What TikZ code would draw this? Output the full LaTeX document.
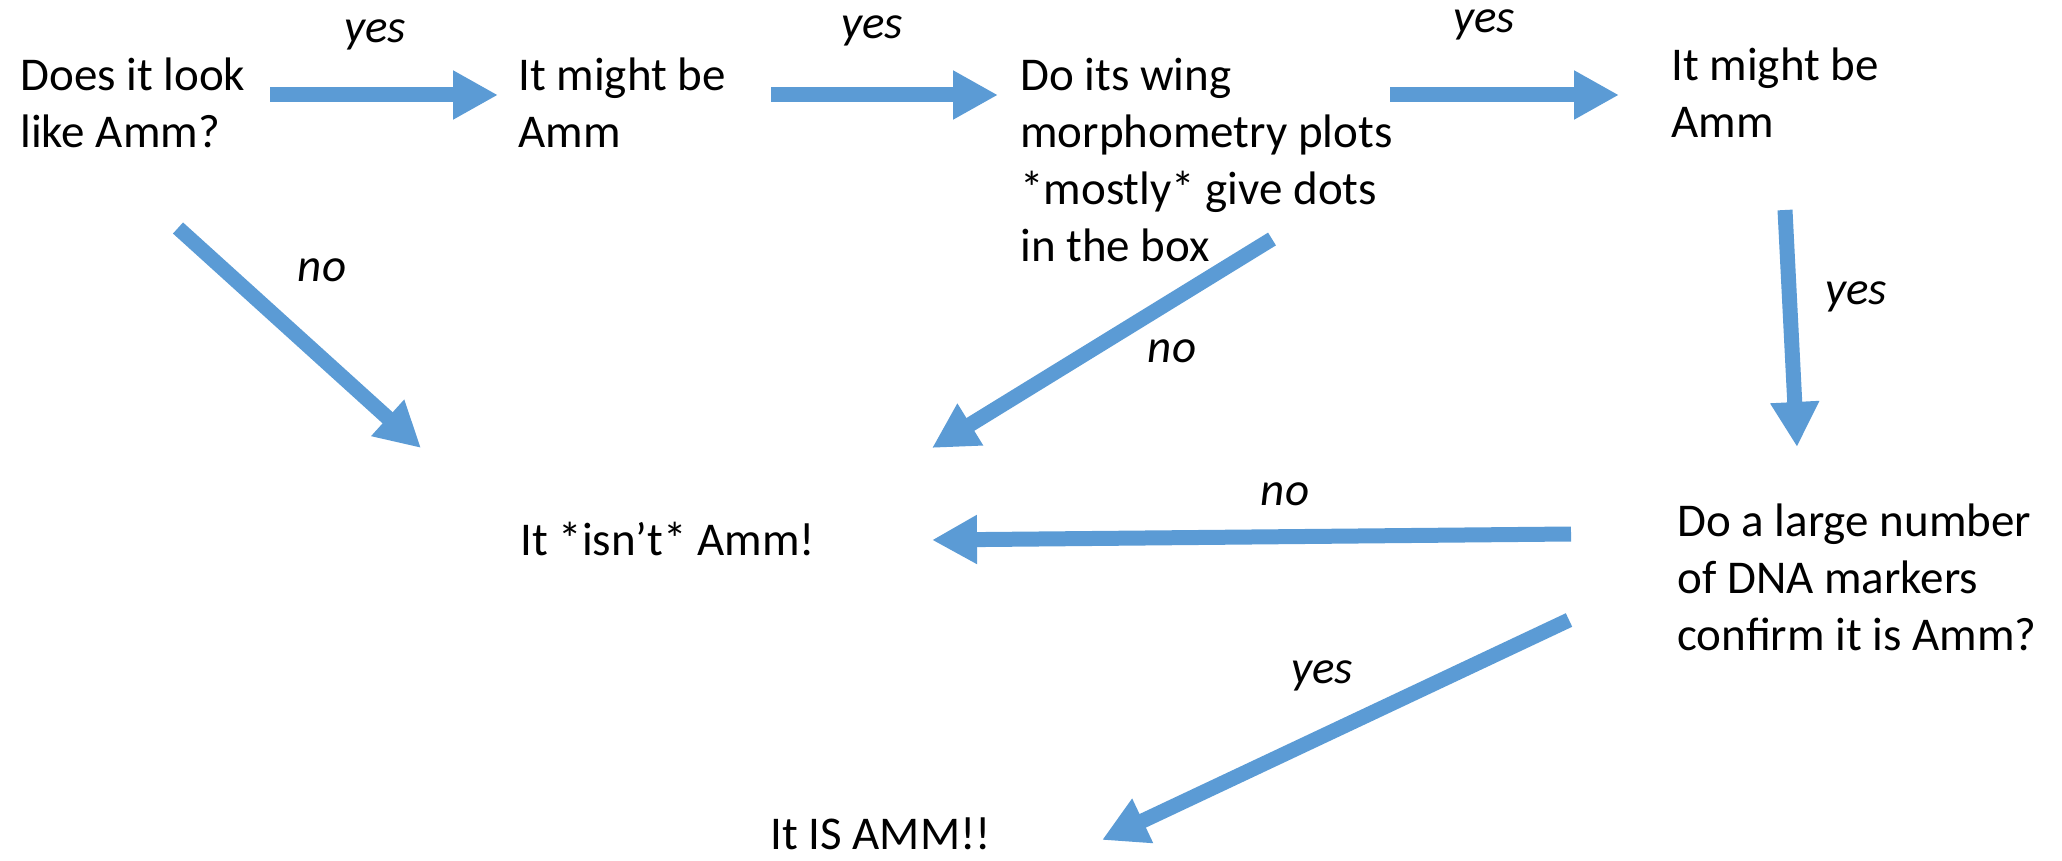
\documentclass[tikz,border=0pt]{standalone}
\usepackage{fontspec}
\setmainfont{Carlito}
\usetikzlibrary{arrows.meta}
\definecolor{ammblue}{HTML}{5B9BD5}

\begin{document}
\begin{tikzpicture}[
	x=0.5pt, y=-0.5pt,
	every node/.style={font=\fontsize{23.5}{28.5}\selectfont},
	txt/.style={anchor=base west, align=left, inner sep=0pt},
	lbl/.style={anchor=base, inner sep=0pt, font=\fontsize{23.5}{28.5}\selectfont\itshape},
	arrow/.style={-{Triangle[length=22.5pt, width=23pt]}, line width=7.5pt, ammblue}
	]
	\useasboundingbox (0,0) rectangle (2062,861);
	
	% Nodes (placed by the baseline of their last line)
	\node[txt] (look) at (20,148) {Does it look\\like Amm?};
	\node[txt] (might1) at (518,148) {It might be\\Amm};
	\node[txt] (wing) at (1020,262) {Do its wing\\morphometry plots\\*mostly* give dots\\in the box};
	\node[txt] (might2) at (1671,138) {It might be\\Amm};
	\node[txt] (isnt) at (520,555) {It *isn't* Amm!};
	\node[txt] (dna) at (1677,650) {Do a large number\\of DNA markers\\confirm it is Amm?};
	\node[txt] (isamm) at (770,849) {It IS AMM!!};
	
	% Arrows
	\draw[arrow] ([shift={(250,-53)}]look.base west) -- ([shift={(-20,-53)}]might1.base west);
	\draw[arrow] ([shift={(253,-53)}]might1.base west) -- ([shift={(-22,-167)}]wing.base west);
	\draw[arrow] ([shift={(370,-167)}]wing.base west) -- ([shift={(-52,-43)}]might2.base west);
	\draw[arrow] ([shift={(158,80)}]look.base west) -- ([shift={(-99,-107)}]isnt.base west);
	\draw[arrow] ([shift={(252,-23)}]wing.base west) -- ([shift={(412,-107)}]isnt.base west);
	\draw[arrow] ([shift={(114,72)}]might2.base west) -- ([shift={(120,-203)}]dna.base west);
	\draw[arrow] ([shift={(-106,-116)}]dna.base west) -- ([shift={(412,-15)}]isnt.base west);
	\draw[arrow] ([shift={(-108,-30)}]dna.base west) -- ([shift={(332,-9)}]isamm.base west);
	
	% Labels
	\node[lbl] (yes1) at (375,43) {yes};
	\node[lbl] (yes2) at (872,39) {yes};
	\node[lbl] (yes3) at (1484,33) {yes};
	\node[lbl] (no1) at (322,282) {no};
	\node[lbl] (no2) at (1172,363) {no};
	\node[lbl] (yes4) at (1856,305) {yes};
	\node[lbl] (no3) at (1285,505) {no};
	\node[lbl] (yes5) at (1322,683) {yes};
\end{tikzpicture}
\end{document}
